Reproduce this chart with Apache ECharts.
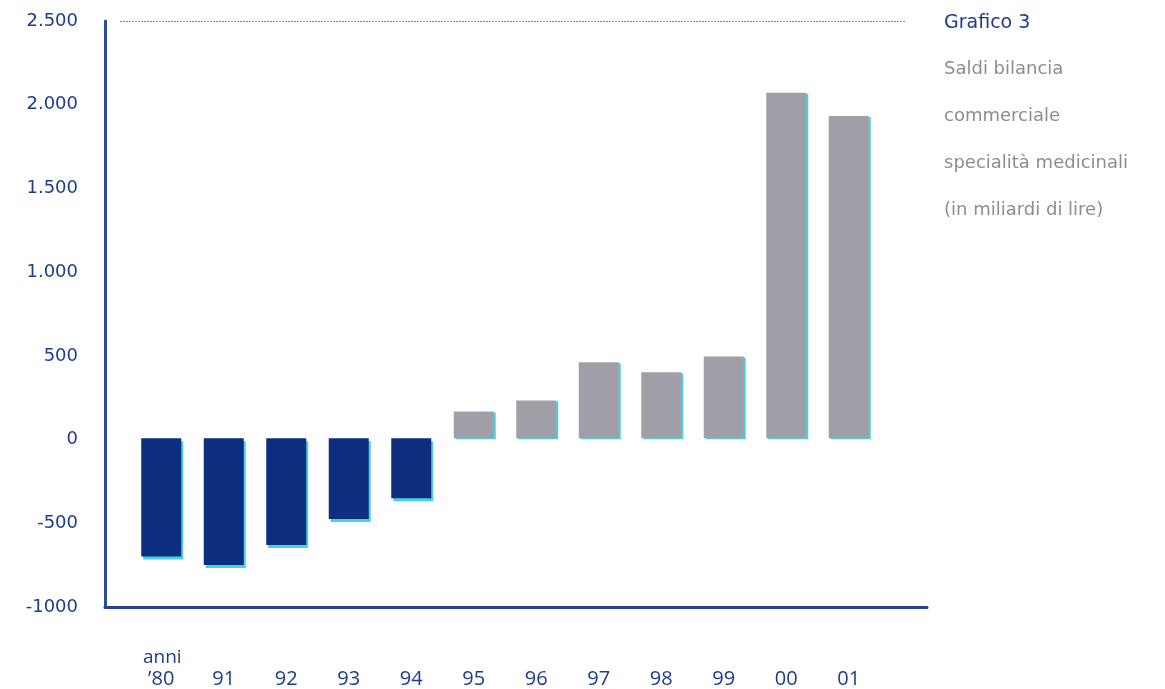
<!DOCTYPE html>
<html>
<head>
<meta charset="utf-8">
<title>Grafico 3 - Saldi bilancia commerciale specialità medicinali</title>
<script src="https://cdn.jsdelivr.net/npm/echarts@6/dist/echarts.min.js"></script>
<style>
  html, body { margin: 0; padding: 0; background: #ffffff; }
  #chart { width: 1165px; height: 689px; }
</style>
</head>
<body>
<div id="chart"></div>
<script>
// Anni e saldi (miliardi di lire)
const years = ['’80', '91', '92', '93', '94', '95', '96', '97', '98', '99', '00', '01'];
const balances = [-710, -760, -640, -485, -360, 160, 225, 455, 395, 490, 2070, 1930];

// Etichette dell'asse verticale
const yTickValues = [-1000, -500, 0, 500, 1000, 1500, 2000, 2500];
const yTickLabels = ['-1000', '-500', '0', '500', '1.000', '1.500', '2.000', '2.500'];

const titleLines = ['Saldi bilancia', 'commerciale', 'specialità medicinali', '(in miliardi di lire)'];

const Y_MIN = -1000, Y_MAX = 2500;
const NAVY = '#0d2d7e';
const GREY = '#a09fa8';
const CYAN = '#45d3e3';
const LABEL_BLUE = '#1f3c8c';

const chart = echarts.init(document.getElementById('chart'));

const negStyle = {
  color: NAVY,
  shadowColor: CYAN, shadowOffsetX: 2, shadowOffsetY: 3, shadowBlur: 0
};
const posStyle = {
  color: GREY,
  shadowColor: CYAN, shadowOffsetX: 2, shadowOffsetY: 1, shadowBlur: 0
};

const titles = [
  { text: 'Grafico 3', left: 939, top: 9,
    textStyle: { fontFamily: 'DejaVu Sans', fontSize: 19, fontWeight: 'normal', color: LABEL_BLUE } },
  { text: 'anni', left: 138, top: 643,
    textStyle: { fontFamily: 'Open Sans', fontSize: 19, fontWeight: 'normal', color: LABEL_BLUE } }
];
titleLines.forEach(function (t, i) {
  titles.push({ text: t, left: 939, top: 55 + i * 47,
    textStyle: { fontFamily: 'DejaVu Sans', fontSize: 18, fontWeight: 'normal', color: '#8d8d8d' } });
});

const option = {
  backgroundColor: '#ffffff',
  animation: false,
  title: titles,
  grid: [
    // cornice degli assi
    { left: 105, right: 238, top: 21, bottom: 82 },
    // barre
    { left: 130, right: 285, top: 21, bottom: 82 },
    // linea tratteggiata superiore
    { left: 120, right: 260, top: 21, bottom: 82 }
  ],
  xAxis: [
    { gridIndex: 0, type: 'value', min: 0, max: 1,
      axisLine: { show: true, onZero: false, lineStyle: { color: '#22409a', width: 3 } },
      axisTick: { show: false }, axisLabel: { show: false }, splitLine: { show: false } },
    { gridIndex: 1, type: 'category', data: years,
      axisLine: { show: false }, axisTick: { show: false }, splitLine: { show: false },
      axisLabel: { margin: 64, fontFamily: 'Open Sans', fontSize: 20, color: LABEL_BLUE } },
    { gridIndex: 2, type: 'value', min: 0, max: 1, show: false }
  ],
  yAxis: [
    { gridIndex: 0, type: 'value', min: Y_MIN, max: Y_MAX, interval: 500,
      axisLine: { show: true, lineStyle: { color: '#2d4c9f', width: 3 } },
      axisTick: { show: false }, splitLine: { show: false },
      axisLabel: {
        margin: 27, fontFamily: 'DejaVu Sans', fontSize: 18, color: LABEL_BLUE,
        formatter: function (v) {
          const i = yTickValues.indexOf(v);
          return i >= 0 ? yTickLabels[i] : '';
        }
      } },
    { gridIndex: 1, type: 'value', min: Y_MIN, max: Y_MAX, show: false },
    { gridIndex: 2, type: 'value', min: Y_MIN, max: Y_MAX, interval: 3500,
      axisLine: { show: false }, axisTick: { show: false }, axisLabel: { show: false },
      splitLine: { show: true, lineStyle: { color: '#8a8a8a', width: 1, type: [2, 1] } } }
  ],
  series: [
    {
      type: 'bar',
      xAxisIndex: 1, yAxisIndex: 1,
      barWidth: 40,
      z: 1,
      data: balances.map(function (v) {
        return { value: v, itemStyle: v < 0 ? negStyle : posStyle };
      })
    }
  ]
};

chart.setOption(option);
</script>
</body>
</html>
